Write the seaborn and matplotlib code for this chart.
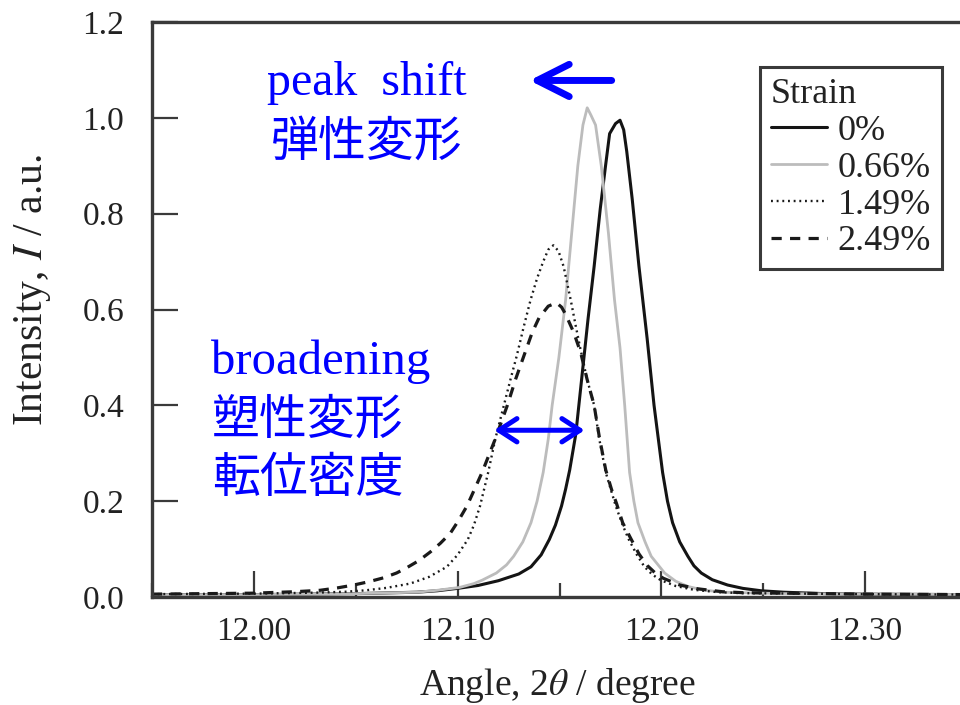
import matplotlib
matplotlib.use("Agg")
import matplotlib.pyplot as plt
from matplotlib.ticker import MultipleLocator, FormatStrFormatter
import pandas as pd
import seaborn as sns

# Diffraction peak profiles for four strain levels
strain_levels = ["0%", "0.66%", "1.49%", "2.49%"]

angle_0 = [11.95, 12.00, 12.05, 12.08, 12.09, 12.10, 12.11, 12.12, 12.13, 12.136,
           12.141, 12.145, 12.148, 12.151, 12.153, 12.155, 12.158, 12.161, 12.164,
           12.167, 12.170, 12.1726, 12.1746, 12.1775, 12.1797, 12.1815, 12.183,
           12.1857, 12.189, 12.193, 12.1964, 12.2006, 12.203, 12.2055, 12.209,
           12.213, 12.216, 12.2196, 12.225, 12.2325, 12.24, 12.249, 12.26, 12.28,
           12.30, 12.35]
inten_0 = [0.005, 0.005, 0.007, 0.010, 0.013, 0.018, 0.024, 0.034, 0.048, 0.063,
           0.088, 0.120, 0.150, 0.190, 0.225, 0.265, 0.340, 0.460, 0.580,
           0.690, 0.810, 0.900, 0.967, 0.988, 0.995, 0.975, 0.930,
           0.830, 0.690, 0.540, 0.400, 0.260, 0.200, 0.155, 0.115,
           0.085, 0.065, 0.050, 0.036, 0.025, 0.018, 0.013, 0.010, 0.007,
           0.006, 0.005]

angle_066 = [11.95, 12.00, 12.05, 12.08, 12.09, 12.101, 12.108, 12.112, 12.119,
             12.124, 12.1275, 12.132, 12.136, 12.139, 12.142, 12.1445, 12.1464,
             12.1497, 12.153, 12.156, 12.159, 12.1615, 12.1636, 12.1655, 12.1677,
             12.1705, 12.174, 12.177, 12.1797, 12.182, 12.1844, 12.1865, 12.1885,
             12.192, 12.195, 12.2016, 12.207, 12.213, 12.22, 12.23, 12.26, 12.35]
inten_066 = [0.005, 0.005, 0.007, 0.010, 0.014, 0.020, 0.028, 0.035, 0.050,
             0.067, 0.085, 0.115, 0.155, 0.200, 0.260, 0.330, 0.400,
             0.500, 0.620, 0.760, 0.900, 0.985, 1.021, 1.005, 0.985,
             0.900, 0.760, 0.620, 0.520, 0.400, 0.260, 0.200, 0.155,
             0.115, 0.085, 0.050, 0.033, 0.022, 0.015, 0.010, 0.007, 0.005]

angle_149 = [11.95, 12.00, 12.03, 12.045, 12.055, 12.065, 12.0767, 12.086, 12.0947,
             12.100, 12.105, 12.108, 12.111, 12.115, 12.1185, 12.1227, 12.126,
             12.129, 12.1325, 12.1358, 12.139, 12.142, 12.1445, 12.147, 12.1495,
             12.152, 12.1555, 12.158, 12.1604, 12.1635, 12.167, 12.1695, 12.1727,
             12.1755, 12.1776, 12.181, 12.184, 12.188, 12.1917, 12.1955, 12.1997,
             12.207, 12.216, 12.228, 12.24, 12.30, 12.35]
inten_149 = [0.006, 0.007, 0.009, 0.011, 0.014, 0.019, 0.028, 0.042, 0.063,
             0.088, 0.120, 0.150, 0.190, 0.260, 0.330, 0.400, 0.455,
             0.503, 0.565, 0.620, 0.665, 0.700, 0.725, 0.734, 0.722,
             0.690, 0.620, 0.565, 0.515, 0.455, 0.400, 0.330, 0.260,
             0.220, 0.190, 0.150, 0.120, 0.088, 0.063, 0.047, 0.035,
             0.023, 0.015, 0.010, 0.008, 0.006, 0.005]

angle_249 = [11.95, 12.00, 12.02, 12.0325, 12.041, 12.049, 12.0565, 12.0636, 12.07,
             12.075, 12.081, 12.0866, 12.0915, 12.0964, 12.1005, 12.1046, 12.108,
             12.112, 12.1185, 12.1244, 12.1285, 12.1325, 12.1366, 12.140, 12.1445,
             12.1485, 12.151, 12.153, 12.157, 12.1604, 12.1635, 12.167, 12.1695,
             12.1727, 12.1755, 12.178, 12.181, 12.185, 12.189, 12.193, 12.197,
             12.201, 12.209, 12.218, 12.23, 12.24, 12.30, 12.35]
inten_249 = [0.006, 0.008, 0.011, 0.014, 0.019, 0.025, 0.032, 0.040, 0.050,
             0.061, 0.076, 0.094, 0.112, 0.133, 0.160, 0.190, 0.222,
             0.260, 0.330, 0.400, 0.455, 0.503, 0.552, 0.583, 0.607,
             0.614, 0.605, 0.590, 0.552, 0.510, 0.455, 0.400, 0.335,
             0.265, 0.225, 0.195, 0.155, 0.122, 0.090, 0.066, 0.050,
             0.039, 0.025, 0.017, 0.011, 0.009, 0.006, 0.005]

x_ticks = [12.00, 12.10, 12.20, 12.30]
y_ticks = [0.0, 0.2, 0.4, 0.6, 0.8, 1.0, 1.2]

profiles = pd.concat(
    [pd.DataFrame({"Angle": a, "Intensity": i, "Strain": s})
     for s, a, i in zip(strain_levels,
                        [angle_0, angle_066, angle_149, angle_249],
                        [inten_0, inten_066, inten_149, inten_249])],
    ignore_index=True)

sns.set_theme(style="ticks")
plt.rcParams["font.family"] = ["Liberation Serif", "DejaVu Serif"]
plt.rcParams["mathtext.fontset"] = "stix"

fig = plt.figure(figsize=(9.6, 7.05), dpi=100)
ax = fig.add_axes([152 / 960, 108 / 705, 815 / 960, 575 / 705])

line_styles = {
    "0%": dict(color="#141414", lw=2.2, ls="-"),
    "0.66%": dict(color="#bcbcbc", lw=2.0, ls="-"),
    "1.49%": dict(color="#1a1a1a", lw=1.7, ls=(0, (0.8, 1.6))),
    "2.49%": dict(color="#1a1a1a", lw=2.3, ls=(0, (3.2, 2.6))),
}

for level in strain_levels:
    sub = profiles[profiles["Strain"] == level]
    st = line_styles[level]
    sns.lineplot(data=sub, x="Angle", y="Intensity", ax=ax, sort=False,
                 estimator=None, color=st["color"], linewidth=st["lw"],
                 linestyle=st["ls"], label=level)

ax.set_xlim(11.95, 12.35)
ax.set_ylim(0.0, 1.2)
ax.set_xticks(x_ticks)
ax.set_yticks(y_ticks)
ax.xaxis.set_minor_locator(MultipleLocator(0.05))
ax.xaxis.set_major_formatter(FormatStrFormatter("%.2f"))
ax.yaxis.set_major_formatter(FormatStrFormatter("%.1f"))

spine_color = "#3a3a3a"
for side in ["left", "top", "bottom"]:
    ax.spines[side].set_color(spine_color)
    ax.spines[side].set_linewidth(2.4)
ax.spines["right"].set_visible(False)

ax.tick_params(axis="both", which="major", direction="in", length=19, width=1.6,
               color=spine_color, labelsize=24, labelcolor="#222222")
ax.tick_params(axis="x", which="major", pad=14)
ax.tick_params(axis="y", which="major", pad=20)
ax.tick_params(axis="x", which="minor", direction="in", length=10, width=1.6,
               color=spine_color)

ax.set_xlabel(r"Angle, 2$\theta$ / degree", fontsize=27, color="#222222")
ax.set_ylabel(r"Intensity, $I$ / a.u.", fontsize=30, color="#222222")
ax.xaxis.set_label_coords(0.498, -0.12)
ax.yaxis.set_label_coords(-0.122, 0.534)

leg = ax.legend(title="Strain", loc="upper right",
                bbox_to_anchor=(942 / 960, 1 - 67 / 705),
                bbox_transform=fig.transFigure, borderaxespad=0,
                frameon=True, fancybox=False, framealpha=1,
                edgecolor=spine_color, fontsize=26, title_fontsize=26,
                handlelength=1.55, handletextpad=0.3, labelspacing=0.1,
                borderpad=0.3, alignment="left")
leg.get_frame().set_linewidth(2.2)
for t in leg.get_texts():
    t.set_color("#222222")
leg.get_title().set_color("#222222")

blue = "#0000ff"
cjk = ["Noto Sans CJK JP", "DejaVu Sans"]
ax.text(12.0064, 1.047, "peak  shift", color=blue, fontsize=34.5, va="baseline")
ax.text(12.0084, 0.921, "弾性変形", color=blue, fontsize=34.5, va="baseline", family=cjk)
ax.text(11.9788, 0.465, "broadening", color=blue, fontsize=35, va="baseline")
ax.text(11.9793, 0.341, "塑性変形", color=blue, fontsize=34.5, va="baseline", family=cjk)
ax.text(11.9793, 0.220, "転位密度", color=blue, fontsize=34.5, va="baseline", family=cjk)

ax.annotate("", xy=(12.1353, 1.078), xytext=(12.1756, 1.078),
            arrowprops=dict(arrowstyle="->,head_length=1.15,head_width=0.58",
                            lw=5, color=blue, mutation_scale=20,
                            shrinkA=0, shrinkB=0, capstyle="round",
                            joinstyle="round"))
ax.annotate("", xy=(12.118, 0.348), xytext=(12.1623, 0.348),
            arrowprops=dict(arrowstyle="<->,head_length=0.65,head_width=0.42",
                            lw=3.6, color=blue, mutation_scale=20,
                            shrinkA=0, shrinkB=0, capstyle="round",
                            joinstyle="round"))

fig.savefig("out.png", dpi=100)
